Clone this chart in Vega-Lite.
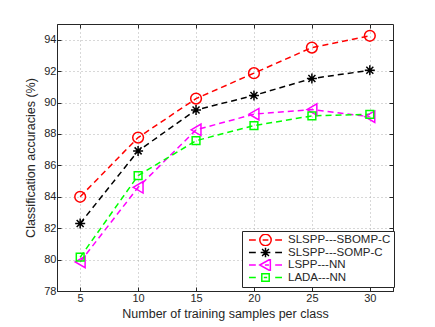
{
  "$schema": "https://vega.github.io/schema/vega-lite/v6.json",
  "width": 336,
  "height": 267,
  "autosize": {"type": "none"},
  "padding": {"left": 57, "top": 24, "right": 42, "bottom": 36},
  "background": "white",
  "config": {
    "font": "Liberation Sans",
    "view": {"stroke": "#262626", "strokeWidth": 1},
    "axis": {
      "labelFont": "Liberation Sans",
      "titleFont": "Liberation Sans",
      "labelFontSize": 11,
      "titleFontSize": 12.5,
      "titleFontWeight": "normal",
      "labelColor": "#262626",
      "titleColor": "#262626",
      "domainColor": "#262626",
      "tickColor": "#262626",
      "tickSize": -4,
      "labelPadding": 5,
      "grid": true,
      "gridColor": "#b0b0b0",
      "gridDash": [1, 3],
      "gridWidth": 1
    }
  },
  "data": {
    "values": [
      {"n": 5, "acc": 84.0, "method": "SLSPP---SBOMP-C"},
      {"n": 10, "acc": 87.77, "method": "SLSPP---SBOMP-C"},
      {"n": 15, "acc": 90.25, "method": "SLSPP---SBOMP-C"},
      {"n": 20, "acc": 91.87, "method": "SLSPP---SBOMP-C"},
      {"n": 25, "acc": 93.5, "method": "SLSPP---SBOMP-C"},
      {"n": 30, "acc": 94.25, "method": "SLSPP---SBOMP-C"},
      {"n": 5, "acc": 82.3, "method": "SLSPP---SOMP-C"},
      {"n": 10, "acc": 86.92, "method": "SLSPP---SOMP-C"},
      {"n": 15, "acc": 89.53, "method": "SLSPP---SOMP-C"},
      {"n": 20, "acc": 90.45, "method": "SLSPP---SOMP-C"},
      {"n": 25, "acc": 91.53, "method": "SLSPP---SOMP-C"},
      {"n": 30, "acc": 92.05, "method": "SLSPP---SOMP-C"},
      {"n": 5, "acc": 79.85, "method": "LSPP---NN"},
      {"n": 10, "acc": 84.6, "method": "LSPP---NN"},
      {"n": 15, "acc": 88.26, "method": "LSPP---NN"},
      {"n": 20, "acc": 89.26, "method": "LSPP---NN"},
      {"n": 25, "acc": 89.55, "method": "LSPP---NN"},
      {"n": 30, "acc": 89.1, "method": "LSPP---NN"},
      {"n": 5, "acc": 80.15, "method": "LADA---NN"},
      {"n": 10, "acc": 85.35, "method": "LADA---NN"},
      {"n": 15, "acc": 87.57, "method": "LADA---NN"},
      {"n": 20, "acc": 88.53, "method": "LADA---NN"},
      {"n": 25, "acc": 89.15, "method": "LADA---NN"},
      {"n": 30, "acc": 89.25, "method": "LADA---NN"}
    ]
  },
  "resolve": {"axis": {"x": "independent", "y": "independent"}},
  "encoding": {
    "x": {
      "field": "n",
      "type": "quantitative",
      "scale": {"domain": [3, 32], "nice": false, "zero": false},
      "axis": null
    },
    "y": {
      "field": "acc",
      "type": "quantitative",
      "scale": {"domain": [78, 95], "nice": false, "zero": false},
      "axis": null
    },
    "color": {
      "field": "method",
      "type": "nominal",
      "scale": {
        "domain": ["SLSPP---SBOMP-C", "SLSPP---SOMP-C", "LSPP---NN", "LADA---NN"],
        "range": ["#ff0000", "#000000", "#ff00ff", "#00ff00"]
      },
      "legend": {
        "title": null,
        "orient": "none",
        "legendX": 185,
        "legendY": 207,
        "fillColor": "white",
        "strokeColor": "#262626",
        "padding": 3,
        "rowPadding": 0.5,
        "clipHeight": 12,
        "symbolOffset": 14,
        "labelOffset": 16,
        "labelFont": "Liberation Sans",
        "labelFontSize": 11.5,
        "labelColor": "#262626",
        "symbolStrokeWidth": 1.5,
        "symbolSize": 130,
        "symbolFillColor": "transparent",
        "symbolDash": [],
        "encode": {
          "symbols": {
            "update": {
              "shape": {"signal": "datum.value === 'SLSPP---SBOMP-C' ? 'M1,0A1,1 0 1,1 -1,0A1,1 0 1,1 1,0ZM-0.5,0H0.5M-2.9,0H-1.7M1.7,0H2.9' : datum.value === 'SLSPP---SOMP-C' ? 'M-0.85,0H0.85M0,-0.85V0.85M-0.6,-0.6L0.6,0.6M-0.6,0.6L0.6,-0.6M-2.9,0H-1.7M1.7,0H2.9' : datum.value === 'LSPP---NN' ? 'M-1,0L0.85,-1.05V1.05ZM-0.1,0H0.6M-2.9,0H-1.7M1.7,0H2.9' : 'M-0.65,-0.65H0.65V0.65H-0.65ZM-0.3,0H0.3M-2.9,0H-1.7M1.7,0H2.9'"},
              "fill": {"value": "transparent"}
            }
          }
        }
      }
    }
  },
  "layer": [
    {
      "mark": {"type": "line", "strokeDash": [6, 4], "strokeWidth": 1.5},
      "encoding": {
        "x": {
          "field": "n",
          "type": "quantitative",
          "axis": {"orient": "bottom", "values": [5, 10, 15, 20, 25, 30], "title": "Number of training samples per class", "titlePadding": 4}
        },
        "y": {
          "field": "acc",
          "type": "quantitative",
          "axis": {"orient": "left", "values": [78, 80, 82, 84, 86, 88, 90, 92, 94], "title": "Classification accuracies (%)", "titlePadding": 6}
        }
      }
    },
    {
      "transform": [{"filter": "datum.method === 'LADA---NN'"}],
      "mark": {"type": "point", "opacity": 0},
      "encoding": {
        "x": {
          "field": "n",
          "type": "quantitative",
          "axis": {"orient": "top", "values": [5, 10, 15, 20, 25, 30], "labels": false, "title": null, "grid": false, "domain": false}
        },
        "y": {
          "field": "acc",
          "type": "quantitative",
          "axis": {"orient": "right", "values": [78, 80, 82, 84, 86, 88, 90, 92, 94], "labels": false, "title": null, "grid": false, "domain": false}
        }
      }
    },
    {
      "transform": [{"filter": "datum.method === 'SLSPP---SBOMP-C'"}],
      "mark": {"type": "point", "shape": "circle", "size": 115, "filled": false, "strokeWidth": 1.5, "opacity": 1}
    },
    {
      "transform": [{"filter": "datum.method === 'SLSPP---SOMP-C'"}],
      "mark": {"type": "point", "shape": "M-1,0H1M0,-1V1M-0.7,-0.7L0.7,0.7M-0.7,0.7L0.7,-0.7", "size": 100, "filled": false, "strokeWidth": 1.5, "opacity": 1}
    },
    {
      "transform": [{"filter": "datum.method === 'LSPP---NN'"}],
      "mark": {"type": "point", "shape": "triangle-left", "size": 130, "filled": false, "strokeWidth": 1.5, "opacity": 1}
    },
    {
      "transform": [{"filter": "datum.method === 'LADA---NN'"}],
      "mark": {"type": "point", "shape": "square", "size": 60, "filled": false, "strokeWidth": 1.5, "opacity": 1}
    }
  ]
}
